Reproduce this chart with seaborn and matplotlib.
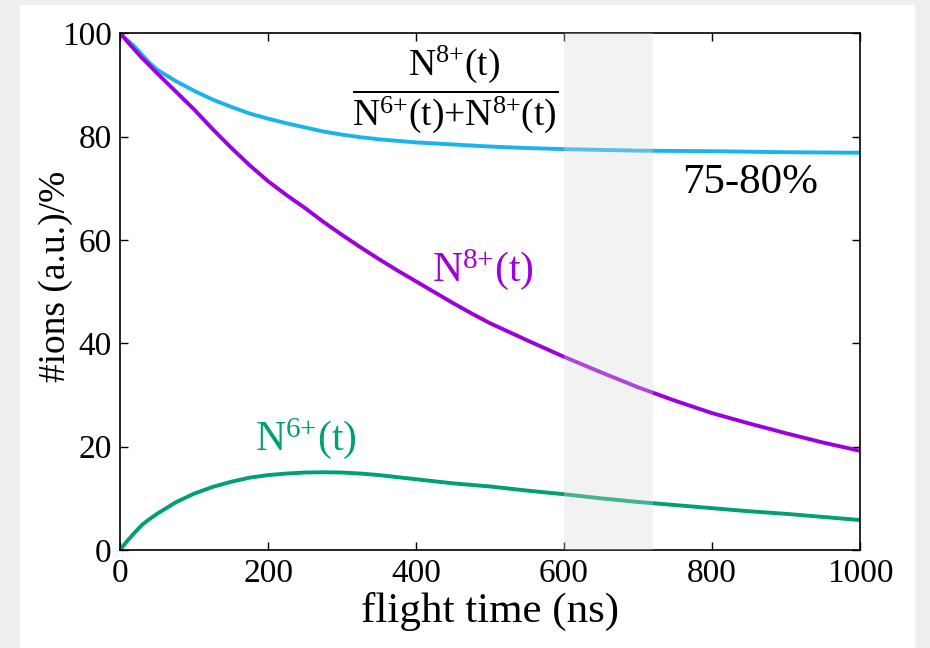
import pandas as pd
import numpy as np
import matplotlib
matplotlib.use("Agg")
import matplotlib.pyplot as plt
from matplotlib.patches import Rectangle
import seaborn as sns

# values (flight time in ns, ions in %)
flight_time = [0, 10, 20, 30, 40, 50, 75, 100, 125, 150, 175, 200, 225, 250, 275, 300, 325, 350,
               375, 400, 425, 450, 475, 500, 550, 600, 650, 700, 750, 800, 850, 900, 950, 1000]
ratio_pct = [100, 98.7, 97.4, 95.8, 94.3, 93.0, 90.8, 88.9, 87.2, 85.8, 84.5, 83.5, 82.6, 81.8, 81.0,
             80.4, 79.9, 79.5, 79.2, 78.9, 78.7, 78.5, 78.3, 78.1, 77.8, 77.6, 77.45, 77.3, 77.25,
             77.2, 77.1, 77.0, 76.95, 76.9]
n8_pct = [100, 98.4, 96.8, 95.2, 93.8, 92.3, 88.8, 85.3, 81.5, 77.9, 74.5, 71.4, 68.7, 66.2, 63.5,
          61.0, 58.6, 56.3, 54.1, 52.0, 49.9, 47.8, 45.8, 43.9, 40.6, 37.4, 34.4, 31.5, 28.9, 26.5,
          24.5, 22.6, 20.8, 19.2]
n6_pct = [0, 1.8, 3.4, 4.9, 6.0, 7.0, 9.2, 10.9, 12.2, 13.2, 14.0, 14.5, 14.8, 15.0, 15.05, 15.0,
          14.8, 14.5, 14.1, 13.7, 13.3, 12.9, 12.6, 12.3, 11.5, 10.8, 10.0, 9.3, 8.7, 8.1, 7.5,
          7.0, 6.4, 5.8]

series_names = ["ratio", "N8", "N6"]
series_colors = {"ratio": "#1ab4ec", "N8": "#9d00dd", "N6": "#00a072"}
window = (600, 720)

df = pd.concat([
    pd.DataFrame({"t": flight_time, "ions": ratio_pct, "series": "ratio"}),
    pd.DataFrame({"t": flight_time, "ions": n8_pct, "series": "N8"}),
    pd.DataFrame({"t": flight_time, "ions": n6_pct, "series": "N6"}),
])

sns.set_theme(style="white")
plt.rcParams["font.family"] = ["Liberation Serif", "DejaVu Serif"]
plt.rcParams["mathtext.fontset"] = "custom"
plt.rcParams["mathtext.rm"] = "Liberation Serif"
plt.rcParams["mathtext.it"] = "Liberation Serif:italic"
plt.rcParams["text.color"] = "black"
plt.rcParams["axes.labelcolor"] = "black"

fig = plt.figure(figsize=(9.3, 6.48), dpi=100, facecolor="#efefef")
fig.patches.append(Rectangle((20 / 930, 0), 895 / 930, 643 / 648, transform=fig.transFigure,
                             facecolor="white", edgecolor="none", zorder=-5))
ax = fig.add_axes([120 / 930, 98 / 648, 740 / 930, 516.6 / 648])
ax.set_facecolor("white")

sns.lineplot(data=df, x="t", y="ions", hue="series", hue_order=series_names,
             palette=series_colors, linewidth=2.8, legend=False, ax=ax)

ax.axvspan(*window, color="#d8d8d8", alpha=0.33, lw=0, zorder=4)

ax.set_xlim(0, 1000)
ax.set_ylim(0, 100)
ax.set_xticks(range(0, 1001, 200))
ax.set_yticks(range(0, 101, 20))
ax.tick_params(direction="in", length=6, width=1, colors="black", labelsize=24,
               top=True, right=True, bottom=True, left=True, pad=6)
for s in ax.spines.values():
    s.set_color("black")
    s.set_linewidth(1.2)

ax.set_xlabel("flight time (ns)", fontsize=31, labelpad=2)
ax.set_ylabel("#ions (a.u.)/%", fontsize=27)
ax.yaxis.set_label_coords(-0.064, 0.53)

frac = (r"$\dfrac{\mathrm{N}^{8{+}}(\mathrm{t})}"
        r"{\mathrm{N}^{6{+}}(\mathrm{t}){+}\mathrm{N}^{8{+}}(\mathrm{t})}$")
ax.text(453, 89, frac, fontsize=27, ha="center", va="center", color="black")
ax.text(851, 71, "75-80%", fontsize=31, ha="center", va="center", color="black")
ax.text(490, 54.2, r"$\mathrm{N}^{8{+}}(\mathrm{t})$", fontsize=30, ha="center", va="center",
        color=series_colors["N8"])
ax.text(251, 21.5, r"$\mathrm{N}^{6{+}}(\mathrm{t})$", fontsize=30, ha="center", va="center",
        color=series_colors["N6"])

fig.savefig("out.png", dpi=100, facecolor=fig.get_facecolor())
